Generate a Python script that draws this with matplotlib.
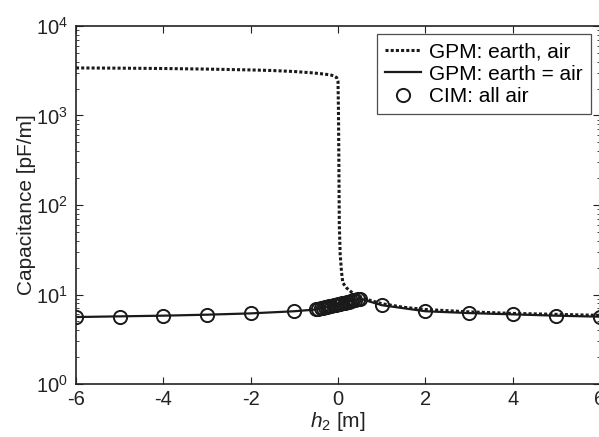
import matplotlib
matplotlib.use("Agg")
import matplotlib.pyplot as plt
from matplotlib.ticker import LogLocator, NullFormatter

plt.rcParams['font.family'] = ['Liberation Sans', 'DejaVu Sans']
plt.rcParams['mathtext.fontset'] = 'custom'
plt.rcParams['mathtext.rm'] = 'Liberation Sans'
plt.rcParams['mathtext.it'] = 'Liberation Sans:italic'

# GPM: earth, air (dotted)
h_gpm_ea = [-6, -5, -4, -3, -2, -1.5, -1, -0.6, -0.3, -0.15, -0.08, -0.03, 0.0, 0.01, 0.02,
            0.03, 0.05, 0.08, 0.11, 0.2, 0.3, 0.4, 0.5, 0.7, 1, 1.5, 2, 3, 4, 5, 6]
c_gpm_ea = [3400, 3380, 3350, 3300, 3230, 3180, 3100, 3000, 2900, 2820, 2750, 2650, 2400, 1200, 300,
            60, 28, 18, 13.5, 11.8, 10.7, 10.0, 9.5, 8.7, 7.9, 7.2, 6.8, 6.4, 6.15, 6.0, 5.85]

# GPM: earth = air (solid)
h_gpm_eq = [-6, -5, -4, -3, -2, -1, -0.5, 0, 0.5, 1, 2, 3, 4, 5, 6]
c_gpm_eq = [5.6, 5.7, 5.8, 5.95, 6.15, 6.5, 6.8, 7.7, 9.0, 7.6, 6.5, 6.2, 6.0, 5.8, 5.65]

# CIM: all air (circles)
h_cim = [-6, -5, -4, -3, -2, -1,
         -0.5, -0.45, -0.4, -0.35, -0.3, -0.25, -0.2, -0.15, -0.1, -0.05, 0,
         0.05, 0.1, 0.15, 0.2, 0.25, 0.3, 0.35, 0.4, 0.45, 0.5,
         1, 2, 3, 4, 5, 6]
c_cim = [5.6, 5.65, 5.8, 5.95, 6.15, 6.5,
         6.8, 6.9, 7.0, 7.1, 7.2, 7.3, 7.4, 7.5, 7.6, 7.7, 7.8,
         7.9, 8.0, 8.1, 8.2, 8.35, 8.5, 8.6, 8.75, 8.9, 9.0,
         7.6, 6.5, 6.2, 6.0, 5.8, 5.65]

xticks = [-6, -4, -2, 0, 2, 4, 6]

fig = plt.figure(figsize=(5.99, 4.37), dpi=100)
ax = fig.add_axes([76/599, 1 - 384/437, (600 - 76)/599, (384 - 26)/437])

col = '#1a1a1a'
ax.plot(h_gpm_ea, c_gpm_ea, color=col, lw=2.2, linestyle=(0, (1, 0.7)), label='GPM: earth, air')
ax.plot(h_gpm_eq, c_gpm_eq, color=col, lw=1.6, label='GPM: earth = air')
ax.plot(h_cim, c_cim, linestyle='none', marker='o', markersize=9.5, markerfacecolor='none',
        markeredgecolor=col, markeredgewidth=1.4, label='CIM: all air')

ax.set_yscale('log')
ax.set_xlim(-6, 6)
ax.set_ylim(1, 1e4)
ax.set_xticks(xticks)
ax.set_xticklabels([str(t) for t in xticks])
ax.yaxis.set_major_locator(LogLocator(base=10, numticks=10))
ax.yaxis.set_minor_locator(LogLocator(base=10, subs=range(2, 10), numticks=20))
ax.yaxis.set_minor_formatter(NullFormatter())
ax.tick_params(which='both', direction='in', top=True, right=True, labelsize=14.5, colors='#222222')
ax.tick_params(which='major', length=5, width=0.8)
ax.tick_params(which='minor', length=2.5, width=0.6)
ax.tick_params(axis='x', pad=4)
ax.tick_params(axis='y', pad=6)
for s in ax.spines.values():
    s.set_linewidth(1.2)
    s.set_color('#222222')

ax.set_ylabel('Capacitance [pF/m]', fontsize=15, color='#222222', labelpad=0)
ax.set_xlabel(r'$\mathit{h}_{\mathrm{2}}$ [m]', fontsize=15, color='#222222', labelpad=1)

leg = ax.legend(loc='upper right', bbox_to_anchor=(0.982, 0.977), fontsize=15, frameon=True,
                fancybox=False, edgecolor='#222222', handlelength=1.75, handletextpad=0.35,
                borderpad=0.4, labelspacing=0.15, borderaxespad=0)
leg.get_frame().set_linewidth(0.9)

fig.savefig('out.png', dpi=100)
